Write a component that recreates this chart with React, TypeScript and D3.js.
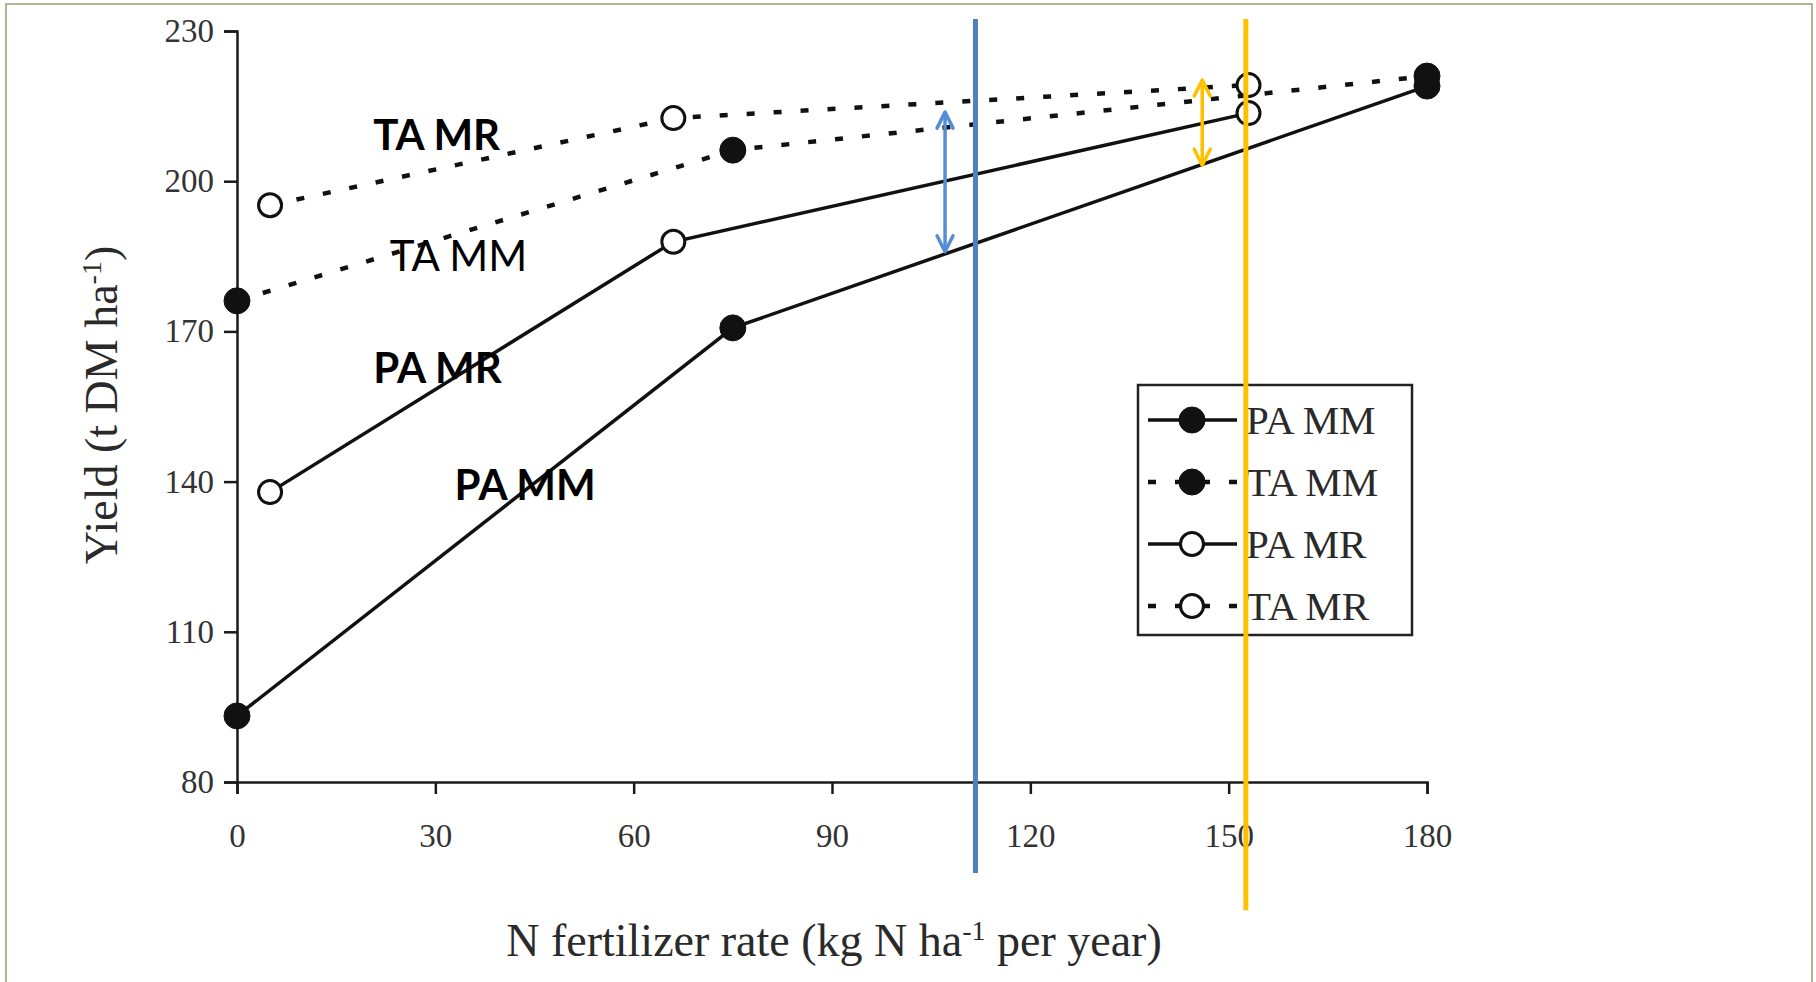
import { useEffect, useRef } from 'react';
import * as d3 from 'd3';

// N fertilizer rate (kg N/ha/yr) vs yield (t DM/ha)
const paMM = [
  { x: 0, y: 93.2 },
  { x: 75, y: 170.7 },
  { x: 180, y: 219 },
];
const taMM = [
  { x: 0, y: 176.1 },
  { x: 75, y: 206.2 },
  { x: 180, y: 221 },
];
const paMR = [
  { x: 5, y: 137.9 },
  { x: 66, y: 187.9 },
  { x: 153, y: 213.6 },
];
const taMR = [
  { x: 5, y: 195.2 },
  { x: 66, y: 212.6 },
  { x: 153, y: 219.2 },
];

const xTicks = [0, 30, 60, 90, 120, 150, 180];
const yTicks = [80, 110, 140, 170, 200, 230];

// vertical marker lines and double arrows that were drawn on top of the figure
const markerLines = [
  { x: 111.7, y0: 232.4, y1: 61.8, color: '#4f81bd' },
  { x: 152.6, y0: 232.4, y1: 54.4, color: '#ffc000' },
];
const gapArrows = [
  { x: 107.1, y0: 213.8, y1: 185.9, color: '#558ed5' },
  { x: 146, y0: 220.2, y1: 203.2, color: '#ffc000' },
];

// in-plot labels: text, x and y in data units, bold or not
const seriesLabels = [
  { text: 'TA MR', x: 20.6, y: 209.4, bold: true },
  { text: 'TA MM', x: 23.1, y: 185.2, bold: false },
  { text: 'PA MR', x: 20.6, y: 162.9, bold: true },
  { text: 'PA MM', x: 32.9, y: 139.5, bold: true },
];

const series = [
  { name: 'PA MM', data: paMM, dotted: false, filled: true },
  { name: 'TA MM', data: taMM, dotted: true, filled: true },
  { name: 'PA MR', data: paMR, dotted: false, filled: false },
  { name: 'TA MR', data: taMR, dotted: true, filled: false },
];

const SERIF = '"Liberation Serif", "Times New Roman", serif';
const SANS = 'Lato, "Open Sans", sans-serif';

function YieldChart() {
  const svgRef = useRef<SVGSVGElement>(null);

  useEffect(() => {
    const width = 1816;
    const height = 982;
    const svg = d3.select(svgRef.current);
    svg.selectAll('*').remove();
    svg.attr('width', width).attr('height', height);

    // olive frame round the slide
    svg.append('rect')
      .attr('x', 6).attr('y', 4)
      .attr('width', 1806).attr('height', 1000)
      .attr('fill', '#fff')
      .attr('stroke', '#a9bb8c')
      .attr('stroke-width', 2);

    const xScale = d3.scaleLinear().domain([0, 180]).range([237, 1427]);
    const yScale = d3.scaleLinear().domain([80, 230]).range([782, 31]);

    // axes
    const yAxis = svg.append('g')
      .attr('transform', `translate(${xScale(0)},0)`)
      .call(d3.axisLeft(yScale).tickValues(yTicks).tickSize(13).tickSizeOuter(13).tickPadding(10));
    const xAxis = svg.append('g')
      .attr('transform', `translate(0,${yScale(80)})`)
      .call(d3.axisBottom(xScale).tickValues(xTicks).tickSize(12).tickSizeOuter(12).tickPadding(30));

    [yAxis, xAxis].forEach(g => {
      g.select('.domain').attr('stroke', '#1a1a1a').attr('stroke-width', 2.5);
      g.selectAll('.tick line').attr('stroke', '#1a1a1a').attr('stroke-width', 2.5);
      g.selectAll('.tick text')
        .attr('fill', '#333')
        .style('font-family', SERIF)
        .style('font-size', '33px');
    });

    // axis titles
    svg.append('text')
      .attr('transform', `translate(117,405) rotate(-90)`)
      .attr('text-anchor', 'middle')
      .attr('fill', '#2a2a2a')
      .style('font-family', SERIF)
      .style('font-size', '46px')
      .call(t => {
        t.append('tspan').text('Yield (t DM ha');
        t.append('tspan').attr('dy', -16).style('font-size', '28px').text('-1');
        t.append('tspan').attr('dy', 16).text(')');
      });

    svg.append('text')
      .attr('x', 834).attr('y', 956)
      .attr('text-anchor', 'middle')
      .attr('fill', '#2a2a2a')
      .style('font-family', SERIF)
      .style('font-size', '46px')
      .call(t => {
        t.append('tspan').text('N fertilizer rate (kg N ha');
        t.append('tspan').attr('dy', -16).style('font-size', '28px').text('-1');
        t.append('tspan').attr('dy', 16).text(' per year)');
      });

    const line = d3.line<{ x: number, y: number }>()
      .x(d => xScale(d.x))
      .y(d => yScale(d.y));

    // series lines first, markers on top
    series.forEach(s => {
      svg.append('path')
        .datum(s.data)
        .attr('d', line)
        .attr('fill', 'none')
        .attr('stroke', '#111')
        .attr('stroke-width', s.dotted ? 4.5 : 3.5)
        .attr('stroke-dasharray', s.dotted ? '8 19' : null);
    });
    series.forEach(s => {
      svg.append('g')
        .selectAll('circle')
        .data(s.data)
        .join('circle')
          .attr('cx', d => xScale(d.x))
          .attr('cy', d => yScale(d.y))
          .attr('r', s.filled ? 13 : 11.5)
          .attr('fill', s.filled ? '#111' : '#fff')
          .attr('stroke', '#111')
          .attr('stroke-width', s.filled ? 1 : 3);
    });

    // labels typed into the slide
    svg.append('g')
      .selectAll('text')
      .data(seriesLabels)
      .join('text')
        .attr('x', d => xScale(d.x))
        .attr('y', d => yScale(d.y))
        .attr('dominant-baseline', 'central')
        .attr('fill', '#000')
        .style('font-family', SANS)
        .style('font-weight', d => d.bold ? 700 : 400)
        .style('font-size', '42px')
        .text(d => d.text);

    // legend box
    const legend = svg.append('g');
    legend.append('rect')
      .attr('x', 1138).attr('y', 385)
      .attr('width', 274).attr('height', 250)
      .attr('fill', '#fff')
      .attr('stroke', '#222')
      .attr('stroke-width', 2.5);
    const rowY = d3.scalePoint().domain(series.map(s => s.name)).range([420, 606]);
    series.forEach(s => {
      const y = rowY(s.name);
      legend.append('line')
        .attr('x1', 1148).attr('x2', 1237)
        .attr('y1', y).attr('y2', y)
        .attr('stroke', '#111')
        .attr('stroke-width', s.dotted ? 4.5 : 3.5)
        .attr('stroke-dasharray', s.dotted ? '8 19' : null);
      legend.append('circle')
        .attr('cx', 1192).attr('cy', y)
        .attr('r', s.filled ? 13 : 11.5)
        .attr('fill', s.filled ? '#111' : '#fff')
        .attr('stroke', '#111')
        .attr('stroke-width', s.filled ? 1 : 3);
      legend.append('text')
        .attr('x', 1246).attr('y', y)
        .attr('dominant-baseline', 'central')
        .attr('fill', '#2a2a2a')
        .style('font-family', SERIF)
        .style('font-size', '41px')
        .text(s.name);
    });

    // coloured marker lines and double-headed arrows
    svg.append('g')
      .selectAll('line')
      .data(markerLines)
      .join('line')
        .attr('x1', d => xScale(d.x)).attr('x2', d => xScale(d.x))
        .attr('y1', d => yScale(d.y0)).attr('y2', d => yScale(d.y1))
        .attr('stroke', d => d.color)
        .attr('stroke-width', 5);

    gapArrows.forEach(a => {
      const x = xScale(a.x);
      const top = yScale(a.y0);
      const bottom = yScale(a.y1);
      const g = svg.append('g')
        .attr('fill', 'none')
        .attr('stroke', a.color)
        .attr('stroke-width', 3.5)
        .attr('stroke-linecap', 'round')
        .attr('stroke-linejoin', 'round');
      g.append('line').attr('x1', x).attr('x2', x).attr('y1', top + 2).attr('y2', bottom - 2);
      g.append('path').attr('d', `M${x - 8},${top + 16} L${x},${top} L${x + 8},${top + 16}`);
      g.append('path').attr('d', `M${x - 8},${bottom - 16} L${x},${bottom} L${x + 8},${bottom - 16}`);
    });
  }, []);

  return <svg ref={svgRef} style={{ position: 'absolute', left: 0, top: 0, display: 'block' }} />;
}

export default function App() {
  return <YieldChart />;
}
